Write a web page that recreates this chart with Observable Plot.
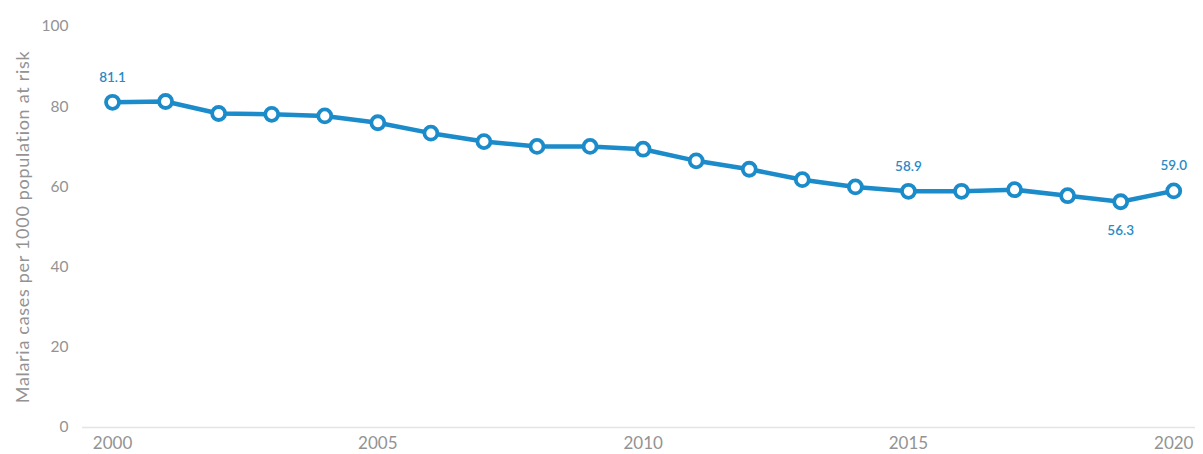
<!DOCTYPE html>
<html>
<head>
<meta charset="utf-8">
<script src="https://cdn.jsdelivr.net/npm/d3@7"></script>
<script src="https://cdn.jsdelivr.net/npm/@observablehq/plot@0.6"></script>
<style>
  html, body { margin: 0; padding: 0; background: #fff; }
  #chart svg { display: block; }
  #chart g[aria-label="y-axis label"] text { font-size: 18px; letter-spacing: 0.7px; }
</style>
</head>
<body>
<div id="chart"></div>
<script>
const years = [2000, 2001, 2002, 2003, 2004, 2005, 2006, 2007, 2008, 2009, 2010,
               2011, 2012, 2013, 2014, 2015, 2016, 2017, 2018, 2019, 2020];
const values = [81.1, 81.3, 78.3, 78.1, 77.7, 76.0, 73.4, 71.3, 70.1, 70.1, 69.4,
                66.5, 64.4, 61.8, 60.0, 58.9, 58.9, 59.3, 57.8, 56.3, 59.0];
const labelYears = [2000, 2015, 2019, 2020];
const labelPositions = ["above", "above", "below", "above"];
const xTicks = [2000, 2005, 2010, 2015, 2020];
const yTicks = [0, 20, 40, 60, 80, 100];
const yTitle = "Malaria cases per 1000 population at risk";

const data = years.map((year, i) => ({year, value: values[i]}));
const labels = labelYears.map((year, i) => {
  const v = values[years.indexOf(year)];
  return {year, value: v, text: v.toFixed(1), pos: labelPositions[i]};
});

const blue = "#1b8bc9";
const gray = "#939393";

const chart = Plot.plot({
  width: 1203,
  height: 454,
  marginLeft: 82,
  marginRight: 8,
  marginTop: 26,
  marginBottom: 27,
  style: {fontFamily: "Lato, 'Open Sans', sans-serif", background: "#fff"},
  x: {domain: [1999.434, 2020.41], ticks: xTicks, tickFormat: d => String(d)},
  y: {domain: [0, 100], ticks: yTicks},
  marks: [
    Plot.ruleY([0], {stroke: "#e4e4e4", strokeWidth: 1.5}),
    Plot.axisX({ticks: xTicks, tickFormat: d => String(d), tickSize: 0, tickPadding: 9,
                fontSize: 17, color: gray, label: null}),
    Plot.axisY({ticks: yTicks, tickSize: 0, tickPadding: 14, fontSize: 15.5, color: gray,
                label: yTitle, labelAnchor: "center", labelArrow: "none", labelOffset: 66}),
    Plot.line(data, {x: "year", y: "value", stroke: blue, strokeWidth: 4.5, strokeLinejoin: "round"}),
    Plot.dot(data, {x: "year", y: "value", r: 6.5, fill: "#fff", stroke: blue, strokeWidth: 3.8}),
    Plot.text(labels.filter(d => d.pos === "above"), {x: "year", y: "value", text: "text", dy: -25,
              fill: "#2a8ac4", fontSize: 13.5, fontWeight: 600}),
    Plot.text(labels.filter(d => d.pos === "below"), {x: "year", y: "value", text: "text", dy: 29,
              fill: "#2a8ac4", fontSize: 13.5, fontWeight: 600})
  ]
});

document.getElementById("chart").appendChild(chart);
</script>
</body>
</html>
